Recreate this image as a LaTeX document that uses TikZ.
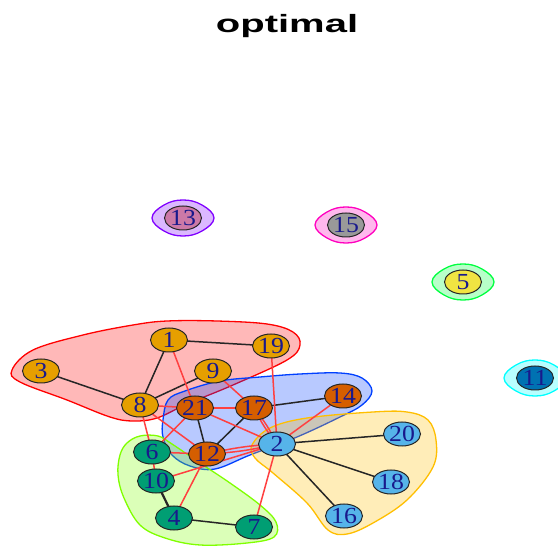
\documentclass[tikz,border=0pt]{standalone}
\usepackage{fontspec}
\setmainfont{Liberation Serif}
\newfontfamily\titlefont{Liberation Sans}
\usetikzlibrary{shapes.geometric}
\pgfdeclarelayer{hulllayer}
\pgfdeclarelayer{edgelayer}
\pgfsetlayers{hulllayer,edgelayer,main}
\definecolor{cOr}{HTML}{E69F00}
\definecolor{cVer}{HTML}{D55E00}
\definecolor{cSky}{HTML}{56B4E9}
\definecolor{cGrn}{HTML}{009E73}
\definecolor{cYel}{HTML}{F0E442}
\definecolor{cBlu}{HTML}{0072B2}
\definecolor{cPur}{HTML}{CC79A7}
\definecolor{cGry}{HTML}{999999}
\definecolor{hRed}{HTML}{FF0000}
\definecolor{hOra}{HTML}{FFBF00}
\definecolor{hLim}{HTML}{80FF00}
\definecolor{hGrn}{HTML}{00FF40}
\definecolor{hCya}{HTML}{00FFFF}
\definecolor{hBlu}{HTML}{0040FF}
\definecolor{hVio}{HTML}{8000FF}
\definecolor{hMag}{HTML}{FF00BF}
\definecolor{labc}{rgb}{0.1,0.1,0.55}
\definecolor{redge}{rgb}{1,0.25,0.25}
\newcommand{\lb}[1]{\scalebox{1.12}[1]{#1}}
\tikzset{
  vtx/.style={ellipse, draw=black!85, line width=1pt, minimum width=37pt, minimum height=24pt, inner sep=0pt,
    text=labc, font=\fontsize{23}{23}\selectfont},
  hull/.style={line width=1.3pt, fill opacity=0.28, draw opacity=1},
  be/.style={draw=black!85, line width=1.5pt},
  re/.style={draw=redge, line width=1.5pt},
}
\begin{document}
\begin{tikzpicture}[x=1pt,y=-1pt]
\begin{pgfonlayer}{hulllayer}
\useasboundingbox (0,0) rectangle (558,548);
\fill[white] (0,0) rectangle (558,548);
% hulls
\draw[hull, draw=hRed, fill=hRed] plot[smooth cycle, tension=0.6] coordinates {(12,370) (33,350) (83,335) (133,325) (167,321) (217,321) (267,324) (293,332) (300,345) (287,360) (233,385) (187,404) (157,418) (133,421) (110,417) (67,400) (20,382)};
\draw[hull, draw=hBlu, fill=hBlu] plot[smooth cycle, tension=0.6] coordinates {(163,420) (168,400) (185,391) (220,381) (260,377) (300,374) (340,373) (362,378) (372,391) (362,405) (340,417) (297,437) (250,455) (215,469) (190,466) (172,455) (163,437)};
\draw[hull, draw=hOra, fill=hOra] plot[smooth cycle, tension=0.6] coordinates {(252,445) (270,428) (307,418) (373,412) (407,412) (428,420) (436,440) (433,467) (407,500) (373,523) (347,534) (328,530) (307,503) (273,473) (255,458)};
\draw[hull, draw=hLim, fill=hLim] plot[smooth cycle, tension=0.6] coordinates {(120,455) (127,443) (140,436) (158,436) (172,444) (200,463) (230,483) (260,505) (276,522) (274,537) (247,543) (200,545) (165,538) (140,525) (124,498) (118,475)};
\foreach \cx/\cy/\hc in {183/218/hVio, 346/225/hMag, 463/282/hGrn, 535/378/hCya}{
  \draw[hull, draw=\hc, fill=\hc, shift={(\cx,\cy)}] plot[smooth cycle, tension=0.7] coordinates {(-31,0) (-19,-13) (0,-18) (19,-13) (31,0) (19,13) (0,18) (-19,13)};
}
\end{pgfonlayer}
\node[anchor=base] (title) at (287,33) {\titlefont\fontsize{25}{25}\selectfont\bfseries\scalebox{1.6}[1]{optimal}};
% nodes
\node[vtx, fill=cOr] (n1) at (169,340) {\lb{1}};
\node[vtx, fill=cOr] (n19) at (271,346) {\lb{19}};
\node[vtx, fill=cOr] (n3) at (41,371) {\lb{3}};
\node[vtx, fill=cOr] (n9) at (213,371) {\lb{9}};
\node[vtx, fill=cOr] (n8) at (140,405) {\lb{8}};
\node[vtx, fill=cVer] (n21) at (195,408) {\lb{21}};
\node[vtx, fill=cVer] (n17) at (254,408) {\lb{17}};
\node[vtx, fill=cVer] (n14) at (343,396) {\lb{14}};
\node[vtx, fill=cVer] (n12) at (207,454) {\lb{12}};
\node[vtx, fill=cSky] (n2) at (277,444) {\lb{2}};
\node[vtx, fill=cSky] (n20) at (402,434) {\lb{20}};
\node[vtx, fill=cSky] (n18) at (391,482) {\lb{18}};
\node[vtx, fill=cSky] (n16) at (344,516) {\lb{16}};
\node[vtx, fill=cGrn] (n6) at (152,452) {\lb{6}};
\node[vtx, fill=cGrn] (n10) at (156,481) {\lb{10}};
\node[vtx, fill=cGrn] (n4) at (174,518) {\lb{4}};
\node[vtx, fill=cGrn] (n7) at (254,527) {\lb{7}};
\node[vtx, fill=cPur] (n13) at (183,218) {\lb{13}};
\node[vtx, fill=cGry] (n15) at (346,225) {\lb{15}};
\node[vtx, fill=cYel] (n5) at (463,282) {\lb{5}};
\node[vtx, fill=cBlu] (n11) at (535,378) {\lb{11}};
% edges
\begin{pgfonlayer}{edgelayer}
\foreach \a/\b in {n1/n19, n1/n8, n3/n8, n8/n9, n21/n12, n17/n12, n17/n14, n2/n20, n2/n18, n2/n16, n4/n7}
  \draw[be] (\a.center) -- (\b.center);
\draw[be, line width=2.2pt] (n10.center) -- (n4.center);
\foreach \a/\b in {n1/n21, n19/n2, n9/n17, n8/n21, n8/n12, n8/n6, n21/n17, n21/n6, n21/n2, n14/n2, n6/n12, n10/n2, n12/n4, n2/n7, n6/n10}
  \draw[re] (\a.center) -- (\b.center);
\draw[re] (n17.center) to[bend left=6] (n2.center);
\draw[re] (n17.center) to[bend right=6] (n2.center);
\draw[re] (n12.center) to[bend left=5] (n2.center);
\draw[re] (n12.center) to[bend right=5] (n2.center);
\end{pgfonlayer}
\end{tikzpicture}
\end{document}
